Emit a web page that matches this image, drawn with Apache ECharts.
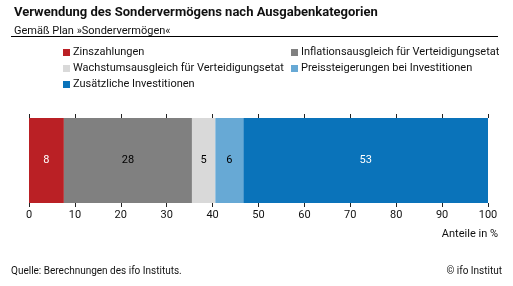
<!DOCTYPE html>
<html>
<head>
<meta charset="utf-8">
<script src="https://cdn.jsdelivr.net/npm/echarts@6/dist/echarts.min.js"></script>
<style>
  html, body { margin: 0; padding: 0; background: #fff; }
  #main { width: 513px; height: 286px; }
</style>
</head>
<body>
<div id="main"></div>
<script>
// Anteile in %, gelesen aus der Grafik
const seriesNames = [
  'Zinszahlungen',
  'Inflationsausgleich für Verteidigungsetat',
  'Wachstumsausgleich für Verteidigungsetat',
  'Preissteigerungen bei Investitionen',
  'Zusätzliche Investitionen'
]
const values = [7.6, 27.9, 5.1, 6.1, 53.3]
const colors = ['#BA2025', '#808080', '#D9D9D9', '#67A9D5', '#0A73BA']
const labelColors = ['#fff', '#000', '#000', '#000', '#fff']
const xTicks = [0, 10, 20, 30, 40, 50, 60, 70, 80, 90, 100]

const FONT = 'Roboto'

const chart = echarts.init(document.getElementById('main'))

const series = seriesNames.map((name, i) => ({
  name: name,
  type: 'bar',
  stack: 'total',
  barWidth: '100%',
  data: [values[i]],
  itemStyle: { color: colors[i] },
  label: {
    show: true,
    position: 'inside',
    color: labelColors[i],
    fontFamily: FONT,
    fontSize: 11,
    formatter: p => Math.round(p.value)
  },
  emphasis: { disabled: true }
}))

const xAxisBase = {
  type: 'value',
  min: xTicks[0],
  max: xTicks[xTicks.length - 1],
  interval: 10,
  axisLine: { show: false },
  axisTick: { show: true, length: 4, lineStyle: { color: '#222' } },
  splitLine: { show: false }
}

const legendBase = {
  orient: 'vertical',
  top: 42,
  itemWidth: 7, itemHeight: 7, itemGap: 5,
  icon: 'rect',
  selectedMode: false,
  textStyle: { fontSize: 11, color: '#111', fontFamily: FONT, padding: [0, 0, 0, -2] }
}

const option = {
  backgroundColor: '#fff',
  animation: false,
  textStyle: { fontFamily: FONT },
  title: [
    {
      text: 'Verwendung des Sondervermögens nach Ausgabenkategorien',
      left: 9, top: 1,
      textStyle: { fontSize: 13, fontWeight: 'bold', color: '#111', fontFamily: FONT }
    },
    {
      text: 'Gemäß Plan »Sondervermögen«',
      left: 9, top: 21,
      textStyle: { fontSize: 11, fontWeight: 'normal', color: '#111', fontFamily: FONT }
    }
  ],
  legend: [
    Object.assign({}, legendBase, {
      data: [seriesNames[0], seriesNames[2], seriesNames[4]],
      left: 58
    }),
    Object.assign({}, legendBase, {
      data: [seriesNames[1], seriesNames[3]],
      left: 286
    })
  ],
  grid: { left: 29, right: 25, top: 118, height: 85, containLabel: false },
  xAxis: [
    Object.assign({}, xAxisBase, {
      position: 'bottom',
      axisLabel: { show: true, fontSize: 11, color: '#111', fontFamily: FONT, margin: 7 }
    }),
    Object.assign({}, xAxisBase, {
      position: 'top',
      axisLabel: { show: false }
    })
  ],
  yAxis: [
    {
      type: 'category', data: [''], position: 'left',
      axisLine: { show: true, lineStyle: { color: '#666' } },
      axisTick: { show: false }, axisLabel: { show: false }
    },
    {
      type: 'category', data: [''], position: 'right',
      axisLine: { show: true, lineStyle: { color: '#666' } },
      axisTick: { show: false }, axisLabel: { show: false }
    }
  ],
  graphic: [
    { type: 'line', shape: { x1: 11, y1: 36.5, x2: 498, y2: 36.5 }, style: { stroke: '#000', lineWidth: 1 } },
    { type: 'text', right: 15, top: 229, style: { text: 'Anteile in %', fontSize: 11, fill: '#111', fontFamily: FONT } },
    { type: 'text', left: 11, top: 266, style: { text: 'Quelle: Berechnungen des ifo Instituts.', fontSize: 10, fill: '#111', fontFamily: FONT } },
    { type: 'text', right: 11, top: 266, style: { text: '© ifo Institut', fontSize: 10, fill: '#111', fontFamily: FONT } }
  ],
  series: series
}

chart.setOption(option)
</script>
</body>
</html>
